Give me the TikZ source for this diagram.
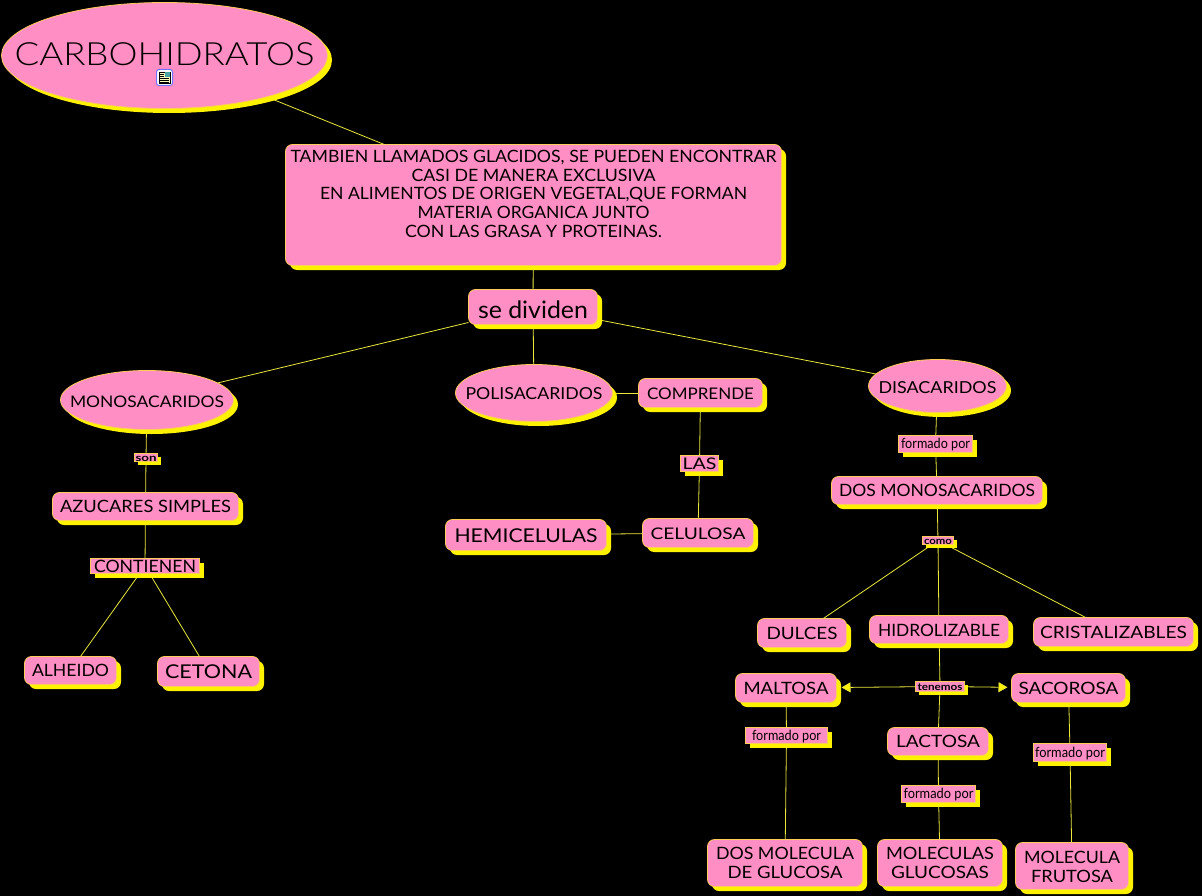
\documentclass[tikz,border=0pt]{standalone}
\usepackage{fontspec}
\usepackage{graphicx}
\setmainfont{Lato}
\newfontfamily\lightface{Lato}[UprightFont=* Light]
\usetikzlibrary{shapes.geometric,shadows,arrows.meta}
\definecolor{pinkfill}{HTML}{FF8EC4}
\definecolor{edgeline}{HTML}{FFCC5A}
\definecolor{linkline}{HTML}{E8E83C}
\pgfdeclarelayer{bgl}\pgfdeclarelayer{edgel}
\pgfsetlayers{bgl,edgel,main}
\newsavebox{\tlbox}
% text line scaled horizontally to a given width: width, size, text
\newcommand{\tlfit}[3]{%
  \sbox{\tlbox}{\fontsize{#2}{#2}\selectfont #3}%
  \pgfmathsetmacro{\tlr}{#1/(\the\wd\tlbox)}%
  \scalebox{\tlr}[1]{\usebox{\tlbox}}}
% single line centred on the node, zero size: [dy]{width}{size}{text}
\newcommand{\tl}[4][0]{%
  \pgfmathsetmacro{\tlo}{-0.36*#3-#1-0.3}%
  \makebox[0pt][c]{\raisebox{\tlo pt}[0pt][0pt]{\tlfit{#2}{#3}{#4}}}}
% one line within a stacked block
\newcommand{\stl}[3]{\hbox to \hsize{\hss\tlfit{#1}{#2}{#3}\hss}}
% stacked block, dy is the last baseline relative to the node centre: [dy]{skip}{lines}
\newcommand{\stk}[3][0]{%
  \makebox[0pt][c]{\raisebox{#1pt}[0pt][0pt]{\vbox{\hsize=490pt\baselineskip=#2pt\lineskiplimit=-100pt\lineskip=0pt\parindent=0pt #3}}}}
% node: style, name, x1, y1, x2, y2, content
\newcommand{\nd}[7]{%
  \node[#1,minimum width={#5-#3},minimum height={#6-#4}] (#2) at ({(#3+#5)/2+0.5},{(#4+#6)/2+0.5}) {#7};}
\tikzset{
  x=1pt,y=-1pt,
  base/.style={draw=edgeline,line width=0.8pt,fill=pinkfill,text=black,inner sep=0pt,outer sep=0pt},
  elli/.style={base,ellipse,general shadow={fill=yellow,shadow xshift=4.5pt,shadow yshift=-4.5pt}},
  rbox/.style={base,rectangle,rounded corners=7pt,general shadow={fill=yellow,shadow xshift=4.5pt,shadow yshift=-4.5pt}},
  lbl/.style={base,rectangle,general shadow={fill=yellow,shadow xshift=4.5pt,shadow yshift=-4.5pt}},
  smalllbl/.style={base,rectangle,general shadow={fill=yellow,shadow xshift=3pt,shadow yshift=-3pt}},
  link/.style={draw=linkline,line width=0.8pt},
  linktip/.style={link,-{Triangle[length=9pt,width=10pt,fill=yellow]}}
}
\begin{document}
\begin{tikzpicture}
\begin{pgfonlayer}{bgl}
\path[use as bounding box,fill=black] (0,0) rectangle (1202,896);
\end{pgfonlayer}

\nd{elli}{root}{1}{2}{327}{108}{\tl[-2]{300}{32}{\lightface CARBOHIDRATOS}}
\nd{rbox}{main}{285}{144}{781}{265}{\stk[-32.5]{18.8}{%
  \stl{486}{17}{TAMBIEN LLAMADOS GLACIDOS, SE PUEDEN ENCONTRAR}
  \stl{244}{17}{CASI DE MANERA EXCLUSIVA}
  \stl{427}{17}{EN ALIMENTOS DE ORIGEN VEGETAL,QUE FORMAN}
  \stl{232}{17}{MATERIA ORGANICA JUNTO}
  \stl{257}{17}{CON LAS GRASA Y PROTEINAS.}}}
\nd{rbox}{divi}{468}{289}{597}{324}{\tl[3]{110}{24}{se dividen}}
\nd{elli}{mono}{60}{370}{233}{429}{\tl[1]{154}{16}{MONOSACARIDOS}}
\nd{elli}{poli}{455}{364}{612}{421}{\tl[0.5]{137}{16.5}{POLISACARIDOS}}
\nd{elli}{disa}{868}{359}{1006}{412}{\tl[1]{118}{16.5}{DISACARIDOS}}
\nd{rbox}{comp}{638}{378}{762}{407}{\tl{107}{16}{COMPRENDE}}
\nd{lbl}{las}{680}{455}{718}{471}{\tl{34}{16}{LAS}}
\nd{rbox}{celu}{642}{518}{753}{547}{\tl{95}{16}{CELULOSA}}
\nd{rbox}{hemi}{445}{519}{606}{550}{\tl{143}{19}{HEMICELULAS}}
\nd{smalllbl}{son}{134}{453}{157}{461}{\tl{21}{10}{\bfseries son}}
\nd{rbox}{azuc}{52}{492}{238}{520}{\tl{171}{17}{AZUCARES SIMPLES}}
\nd{lbl}{cont}{90}{558}{199}{573}{\tl{102}{17}{CONTIENEN}}
\nd{rbox}{alhe}{24}{656}{116}{684}{\tl{77}{17}{ALHEIDO}}
\nd{rbox}{ceto}{157}{656}{259}{686}{\tl{87}{19}{CETONA}}
\nd{lbl}{fdis}{898}{435}{972}{452}{\tl[-0.8]{69}{14}{formado por}}
\nd{rbox}{dosm}{831}{476}{1042}{504}{\tl{196}{17}{DOS MONOSACARIDOS}}
\nd{smalllbl}{como}{922}{536}{953}{544}{\tl{28}{10}{\bfseries como}}
\nd{rbox}{dulc}{757}{618}{846}{647}{\tl{71}{17}{DULCES}}
\nd{rbox}{hidr}{869}{615}{1008}{643}{\tl[1]{122}{17}{HIDROLIZABLE}}
\nd{rbox}{cris}{1033}{617}{1193}{646}{\tl{147}{17}{CRISTALIZABLES}}
\nd{rbox}{malt}{735}{673}{836}{702}{\tl{85}{17}{MALTOSA}}
\nd{smalllbl}{tene}{915}{681}{964}{691}{\tl{45}{10}{\bfseries tenemos}}
\nd{rbox}{saco}{1011}{673}{1125}{702}{\tl{100}{17}{SACOROSA}}
\nd{lbl}{fmal}{745}{727}{827}{743}{\tl[-0.8]{69}{14}{formado por}}
\nd{rbox}{lact}{887}{727}{988}{755}{\tl{84}{17}{LACTOSA}}
\nd{lbl}{fsac}{1033}{743}{1106}{761}{\tl[-0.8]{70}{14}{formado por}}
\nd{lbl}{flac}{901}{785}{975}{802}{\tl[-0.8]{70}{14}{formado por}}
\nd{rbox}{dosg}{707}{839}{862}{886}{\stk[-15.5]{19}{%
  \stl{138}{17}{DOS MOLECULA}
  \stl{115}{17}{DE GLUCOSA}}}
\nd{rbox}{gluc}{877}{839}{1002}{886}{\stk[-15.5]{19}{%
  \stl{108}{17}{MOLECULAS}
  \stl{98}{17}{GLUCOSAS}}}
\nd{rbox}{fruc}{1015}{842}{1128}{889}{\stk[-16.5]{19}{%
  \stl{96}{17}{MOLECULA}
  \stl{82}{17}{FRUTOSA}}}

\begin{pgfonlayer}{edgel}
\draw[link] (root) -- (main);
\draw[link] (main) -- (divi);
\draw[link] (divi) -- (mono);
\draw[link] (divi) -- (poli);
\draw[link] (divi) -- (disa);
\draw[link] (mono) -- (son);
\draw[link] (son) -- (azuc);
\draw[link] (azuc) -- (cont);
\draw[link] (cont) -- (alhe);
\draw[link] (cont) -- (ceto);
\draw[link] (poli) -- (comp);
\draw[link] (comp) -- (las);
\draw[link] (las) -- (celu);
\draw[link] (celu) -- (hemi);
\draw[link] (disa) -- (fdis);
\draw[link] (fdis) -- (dosm);
\draw[link] (dosm) -- (como);
\draw[link] (como) -- (dulc);
\draw[link] (como) -- (hidr);
\draw[link] (como) -- (cris);
\draw[link] (hidr) -- (tene);
\draw[link] (tene) -- (lact);
\draw[linktip,shorten >=5pt] (tene) -- (malt);
\draw[linktip,shorten >=4pt] (tene) -- (saco);
\draw[link] (malt) -- (fmal);
\draw[link] (fmal) -- (dosg);
\draw[link] (saco) -- (fsac);
\draw[link] (fsac) -- (fruc);
\draw[link] (lact) -- (flac);
\draw[link] (flac) -- (gluc);
\end{pgfonlayer}

% document icon inside the title ellipse
\fill[white,draw=blue!55!white,line width=1pt,rounded corners=2.5pt] (156.5,69.5) rectangle (172.5,85.5);
\fill[yellow!25!white,draw=black,line width=0.5pt] (159,72) rectangle (170,83);
\fill[teal!70!white] (165,72.5) rectangle (169.5,77);
\draw[black,line width=0.8pt] (160,74) -- (164,74) (160,76) -- (164,76) (160,78.3) -- (169,78.3) (160,80.2) -- (169,80.2) (160,82) -- (169,82);
\end{tikzpicture}
\end{document}
